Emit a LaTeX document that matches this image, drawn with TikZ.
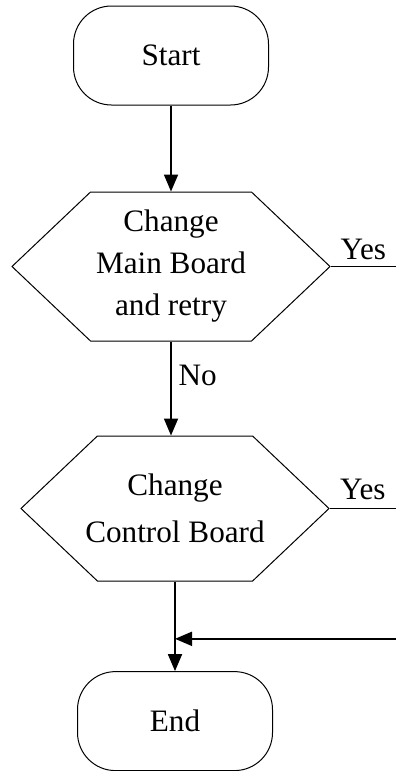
\documentclass[tikz,border=0pt]{standalone}
\usepackage{fontspec}
\setmainfont{Liberation Serif}
\usetikzlibrary{arrows.meta, positioning, shapes.symbols, calc}

\begin{document}
\begin{tikzpicture}[
    terminal/.style={rectangle, rounded corners=19pt, draw, line width=0.5pt,
      minimum width=97.5pt, minimum height=49.5pt, align=center},
    decision/.style={signal, signal to=east and west, signal pointer angle=87,
      draw, line width=0.5pt, inner sep=1pt, align=center},
    arrow/.style={line width=0.9pt, -{Triangle[length=8.5pt, width=7pt]}},
    branch/.style={line width=0.5pt},
    font=\fontsize{15.6}{21}\selectfont
]
\useasboundingbox (0,0) rectangle (198pt,-385.5pt);
\coordinate (rim) at (198pt,0);

\node[terminal] (start) at (85.5pt,-27.75pt) {Start};
\node[decision, minimum width=159pt, minimum height=74.5pt,
  below=43pt of start] (mainboard) {Change\\Main Board\\and retry};
\node[decision, minimum width=154pt, minimum height=72.5pt, inner xsep=-6.5pt,
  below=47pt of mainboard, xshift=2pt] (ctrlboard) {Change\\[2.5pt]Control Board};
\node[terminal, below=44.8pt of ctrlboard] (end) {End};

\draw[arrow] (start.south) -- (mainboard.north);
\draw[arrow] (mainboard.south) -- node[right, pos=0.36] {No}
  (mainboard.south |- ctrlboard.north);
\draw[arrow] (ctrlboard.south) -- (ctrlboard.south |- end.north);

% Yes branches leave to the right
\draw[branch] (mainboard.east) -- node[above, inner sep=3.3pt] {Yes}
  (mainboard.east -| rim);
\draw[branch] (ctrlboard.east) -- node[above, inner sep=4pt] {Yes}
  (ctrlboard.east -| rim);

\coordinate (merge) at ($(ctrlboard.south)!0.64!(end.north)$);
\draw[arrow] (merge -| rim) -- (merge);
\end{tikzpicture}
\end{document}
